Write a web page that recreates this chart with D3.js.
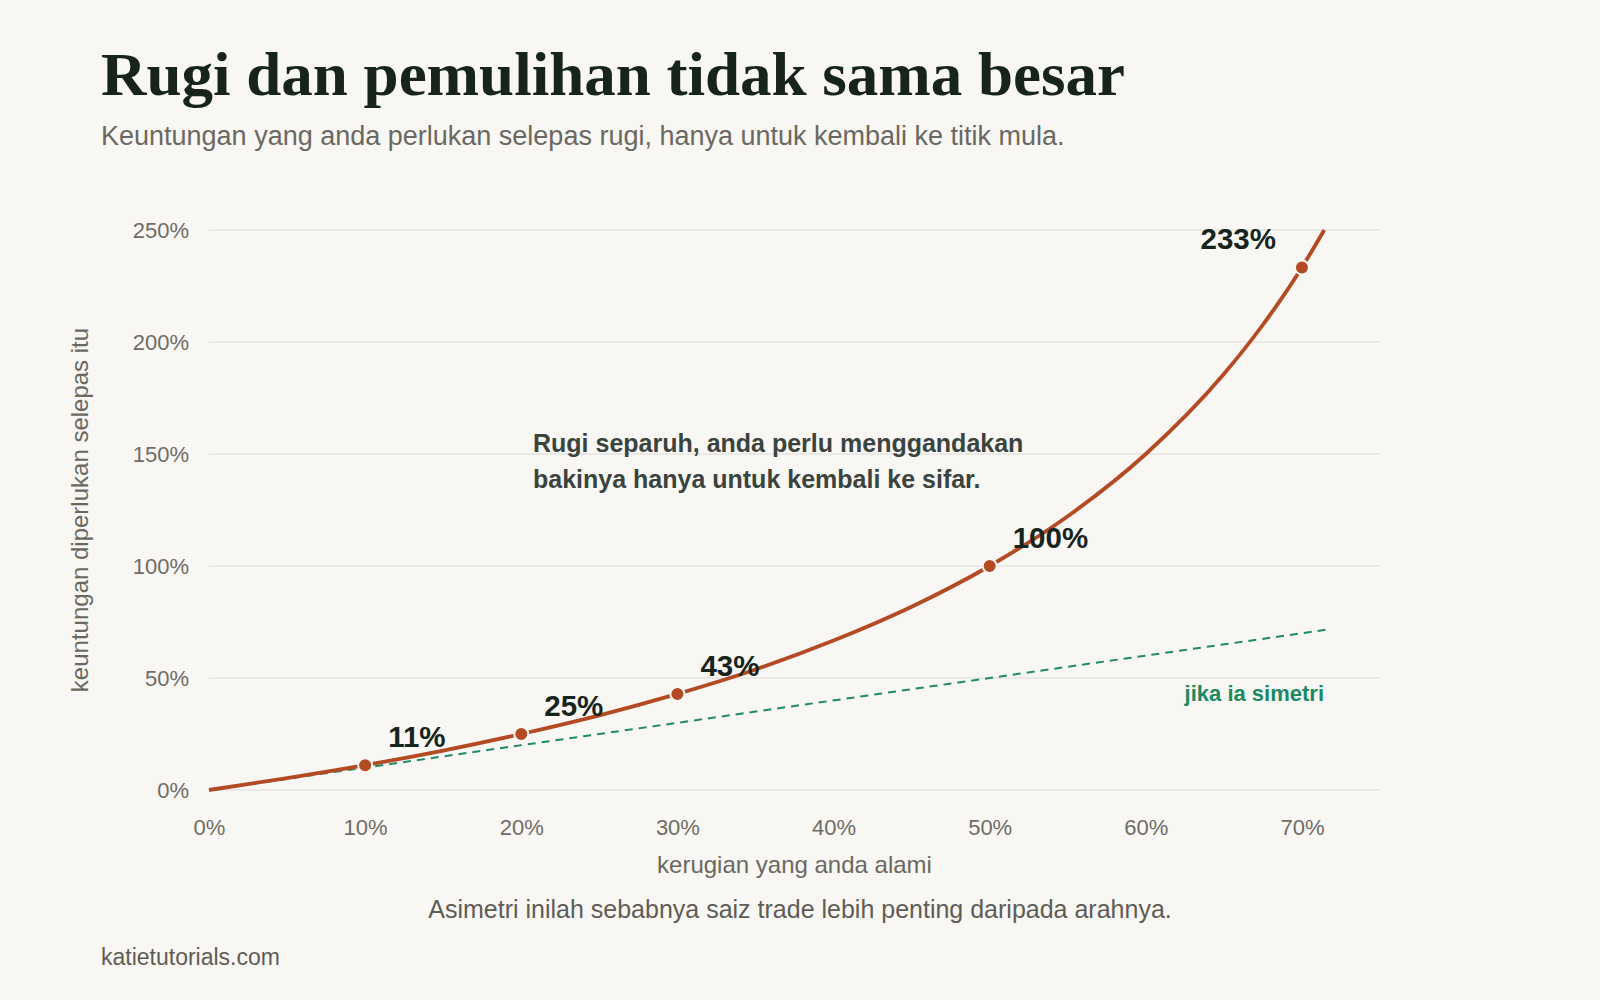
<!DOCTYPE html>
<html>
<head>
<meta charset="utf-8">
<script src="https://cdn.jsdelivr.net/npm/d3@7/dist/d3.min.js"></script>
<style>
  html, body { margin: 0; padding: 0; background: #f8f7f3; }
  svg { display: block; }
</style>
</head>
<body>
<svg id="chart" width="1600" height="1000"></svg>
<script>
// ---- data ----
const curveLoss = [0, 0.05, 0.10, 0.15, 0.20, 0.25, 0.30, 0.35, 0.40, 0.45, 0.50, 0.55, 0.60, 0.65, 0.675, 0.70, 0.7143];
const curveGain = [0, 0.053, 0.111, 0.176, 0.25, 0.333, 0.429, 0.538, 0.667, 0.818, 1.0, 1.222, 1.5, 1.857, 2.077, 2.333, 2.5];
const symLoss = [0, 0.715];
const symGain = [0, 0.715];
const markerLoss = [0.10, 0.20, 0.30, 0.50, 0.70];
const markerGain = [0.111, 0.25, 0.429, 1.0, 2.333];
const markerLabels = ["11%", "25%", "43%", "100%", "233%"];
const xTicks = [0, 0.1, 0.2, 0.3, 0.4, 0.5, 0.6, 0.7];
const yTicks = [0, 0.5, 1.0, 1.5, 2.0, 2.5];

const titleText = "Rugi dan pemulihan tidak sama besar";
const subtitleText = "Keuntungan yang anda perlukan selepas rugi, hanya untuk kembali ke titik mula.";
const xTitle = "kerugian yang anda alami";
const yTitle = "keuntungan diperlukan selepas itu";
const annotationLines = ["Rugi separuh, anda perlu menggandakan", "bakinya hanya untuk kembali ke sifar."];
const symLabel = "jika ia simetri";
const noteText = "Asimetri inilah sebabnya saiz trade lebih penting daripada arahnya.";
const sourceText = "katietutorials.com";

// ---- layout ----
const svg = d3.select("#chart");
const sans = "'Liberation Sans', Arial, sans-serif";
const x = d3.scaleLinear().domain([0, 0.75]).range([209, 1380]);
const y = d3.scaleLinear().domain([0, 2.5]).range([790, 230]);
const fmt = d => Math.round(d * 100) + "%";

svg.append("rect").attr("width", 1600).attr("height", 1000).attr("fill", "#f8f7f3");

// title
svg.append("text")
  .attr("x", 101).attr("y", 95)
  .attr("font-family", "'Liberation Serif', 'DejaVu Serif', serif")
  .attr("font-weight", 700).attr("font-size", 62)
  .attr("textLength", 1024).attr("lengthAdjust", "spacingAndGlyphs")
  .attr("fill", "#17241d")
  .text(titleText);

svg.append("text")
  .attr("x", 101).attr("y", 145)
  .attr("font-family", sans).attr("font-size", 27)
  .attr("fill", "#6b6862")
  .text(subtitleText);

// gridlines
const gGrid = svg.append("g");
gGrid.selectAll("line").data(yTicks).join("line")
  .attr("x1", x(0)).attr("x2", x(0.75))
  .attr("y1", d => y(d)).attr("y2", d => y(d))
  .attr("stroke", "#e7e5e0").attr("stroke-width", 1.5);

// y axis
const yAxis = d3.axisLeft(y).tickValues(yTicks).tickFormat(fmt).tickSize(0).tickPadding(20);
const gy = svg.append("g").attr("transform", `translate(${x(0)},0)`).call(yAxis);
gy.select(".domain").remove();
gy.selectAll("text").attr("font-family", sans).attr("font-size", 22).attr("fill", "#6f6c66");

// x axis
const xAxis = d3.axisBottom(x).tickValues(xTicks).tickFormat(fmt).tickSize(0).tickPadding(29);
const gx = svg.append("g").attr("transform", `translate(0,${y(0)})`).call(xAxis);
gx.select(".domain").remove();
gx.selectAll("text").attr("font-family", sans).attr("font-size", 22).attr("fill", "#6f6c66");

// axis titles
svg.append("text")
  .attr("x", (x(0) + x(0.75)) / 2).attr("y", 873)
  .attr("text-anchor", "middle")
  .attr("font-family", sans).attr("font-size", 24).attr("fill", "#6b6862")
  .text(xTitle);

svg.append("text")
  .attr("transform", "translate(88,510) rotate(-90)")
  .attr("text-anchor", "middle")
  .attr("font-family", sans).attr("font-size", 24).attr("fill", "#6b6862")
  .text(yTitle);

// symmetric dashed line
const symData = symLoss.map((l, i) => [l, symGain[i]]);
svg.append("path")
  .datum(symData)
  .attr("d", d3.line().x(d => x(d[0])).y(d => y(d[1])))
  .attr("fill", "none").attr("stroke", "#1f8a66").attr("stroke-width", 2)
  .attr("stroke-dasharray", "8,6");

// recovery curve
const curveData = curveLoss.map((l, i) => [l, curveGain[i]]);
svg.append("path")
  .datum(curveData)
  .attr("d", d3.line().x(d => x(d[0])).y(d => y(d[1])).curve(d3.curveMonotoneX))
  .attr("fill", "none").attr("stroke", "#b44a24").attr("stroke-width", 3.8)
  .attr("stroke-linecap", "butt");

// markers
const mData = markerLoss.map((l, i) => ({ l, g: markerGain[i], label: markerLabels[i] }));
svg.append("g").selectAll("circle").data(mData).join("circle")
  .attr("cx", d => x(d.l)).attr("cy", d => y(d.g)).attr("r", 7)
  .attr("fill", "#b44a24").attr("stroke", "#f8f7f3").attr("stroke-width", 2);

svg.append("g").selectAll("text").data(mData).join("text")
  .attr("x", (d, i) => i === mData.length - 1 ? x(d.l) - 26 : x(d.l) + 23)
  .attr("y", d => y(d.g) - 18)
  .attr("text-anchor", (d, i) => i === mData.length - 1 ? "end" : "start")
  .attr("font-family", sans).attr("font-weight", 700).attr("font-size", 29.5)
  .attr("fill", "#17241d")
  .text(d => d.label);

// annotation
svg.append("g").selectAll("text").data(annotationLines).join("text")
  .attr("x", 533).attr("y", (d, i) => 452 + i * 36)
  .attr("font-family", sans).attr("font-weight", 700).attr("font-size", 25)
  .attr("fill", "#3b433e")
  .text(d => d);

svg.append("text")
  .attr("x", 1324).attr("y", 701)
  .attr("text-anchor", "end")
  .attr("font-family", sans).attr("font-weight", 700).attr("font-size", 22)
  .attr("fill", "#1b8a63")
  .text(symLabel);

// note & source
svg.append("text")
  .attr("x", 800).attr("y", 918)
  .attr("text-anchor", "middle")
  .attr("font-family", sans).attr("font-size", 25).attr("fill", "#5f5c56")
  .text(noteText);

svg.append("text")
  .attr("x", 101).attr("y", 965)
  .attr("font-family", sans).attr("font-size", 23).attr("fill", "#5f5c56")
  .text(sourceText);
</script>
</body>
</html>
